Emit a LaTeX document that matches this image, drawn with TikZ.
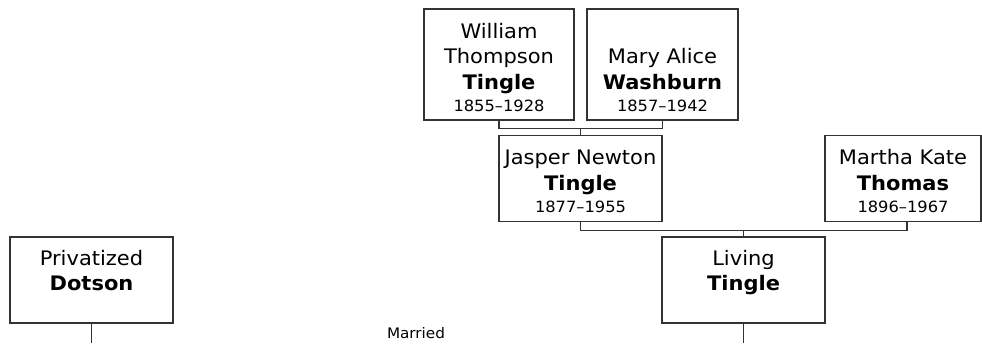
\documentclass[tikz,border=0pt]{standalone}
\usepackage{fontspec}
\setmainfont{DejaVu Sans}[FakeStretch=1.05]
\usetikzlibrary{calc}

\newcommand\namefont{\fontsize{20}{25.5}\selectfont}
\newcommand\yearfont{\fontsize{15.5}{19}\selectfont}
\newcommand\toppad{\rule{0pt}{21pt}}
\tikzset{
  person/.style={draw=black!80, line width=1.1pt, inner sep=0pt, align=center,
    font=\namefont, minimum width=163pt, minimum height=86pt},
  link/.style={draw=black!80, line width=1.1pt},
}

\begin{document}
\begin{tikzpicture}[x=1pt,y=-1pt]
  \useasboundingbox (0,0) rectangle (982,343);
  % grandparents
  \node[person, minimum width=150pt, minimum height=111pt] (william) at (499,64.5)
    {\toppad William\\Thompson\\\textbf{Tingle}\\[-3pt]{\yearfont 1855--1928}};
  \node[person, minimum width=151pt, minimum height=111pt] (mary) at (662.5,64.5)
    {\toppad\\Mary Alice\\\textbf{Washburn}\\[-3pt]{\yearfont 1857--1942}};
  % parents
  \node[person] (jasper) at (580.5,178.5)
    {\toppad Jasper Newton\\\textbf{Tingle}\\[-3pt]{\yearfont 1877--1955}};
  \node[person, minimum width=156pt] (martha) at (903,178.5)
    {\toppad Martha Kate\\\textbf{Thomas}\\[-3pt]{\yearfont 1896--1967}};
  % couple
  \node[person] (dotson) at (91.5,280)
    {\rule{0pt}{18pt}Privatized\\\textbf{Dotson}\\[-3pt]\mbox{}};
  \node[person] (living) at (743.5,280)
    {\rule{0pt}{18pt}Living\\\textbf{Tingle}\\[-3pt]\mbox{}};
  \node[font=\fontsize{14.5}{17}\selectfont] (married) at (416,333) {Married};

  \coordinate (wm) at ($(william.south)!0.5!(mary.south)+(0,8)$);
  \draw[link] (william.south) |- (wm) -| (mary.south);
  \draw[link] (jasper.north) -- (jasper.north |- wm);
  \coordinate (jm) at ($(jasper.south)!0.5!(martha.south)+(0,8)$);
  \draw[link] (jasper.south) |- (jm) -| ([xshift=4pt]martha.south);
  \draw[link] (living.north) -- (living.north |- jm);
  \draw[link] (dotson.south) -- (dotson.south |- 0,343);
  \draw[link] (living.south) -- (living.south |- 0,343);
\end{tikzpicture}
\end{document}
